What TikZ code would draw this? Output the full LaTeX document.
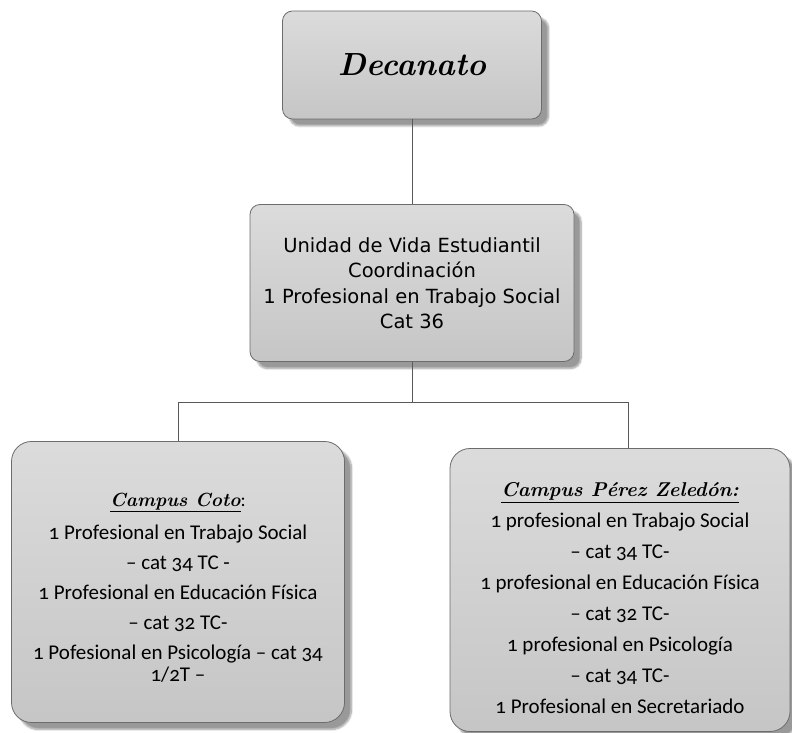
\documentclass[tikz,border=0pt]{standalone}
\usepackage{fontspec}
\usepackage{tikz}
\usetikzlibrary{positioning, shadows.blur}
\newfontfamily\unidadfont{DejaVu Sans}
\newfontfamily\campusfont[Numbers=OldStyle]{Carlito}
\newcommand{\scriptttl}[1]{{\rmfamily\bfseries\itshape #1}}

\begin{document}
\begin{tikzpicture}[x=1pt, y=1pt,
    orgbox/.style={draw=gray!85!black, line width=0.8pt, top color=gray!28, bottom color=gray!45,
        rounded corners=10pt, align=center, inner sep=4pt,
        blur shadow={shadow xshift=7pt, shadow yshift=-7pt, shadow blur steps=10, shadow opacity=40}},
    campusbox/.style={orgbox, rounded corners=20pt, font=\campusfont\fontsize{21}{30}\selectfont},
    link/.style={draw=gray!70!black, line width=0.8pt}]
    \useasboundingbox (0,0) rectangle (792,733);

    % Boxes
    \node[orgbox, minimum width=259pt, minimum height=108pt,
        font=\fontsize{32}{38}\selectfont] (decanato) at (412,668) {\scriptttl{Decanato}};
    \node[orgbox, minimum width=324pt, minimum height=157pt,
        font=\unidadfont\fontsize{19.5}{25.5}\selectfont] (unidad) at (412,450)
        {Unidad de Vida Estudiantil\\ Coordinación\\ 1 Profesional en Trabajo Social\\ Cat 36};
    \node[campusbox, minimum width=333pt, minimum height=281pt] (coto) at (178,151)
        {\rule{0pt}{24pt}{\fontsize{19}{30}\selectfont\underline{\scriptttl{Campus Coto}}:}\\[3pt]
         1 Profesional en Trabajo Social\\
         – cat 34 TC -\\
         1 Profesional en Educación Física\\
         – cat 32 TC-\\
         1 Pofesional en Psicología – cat 34\\[-8pt]
         1/2T –};
    \node[campusbox, minimum width=340pt, minimum height=283pt, font=\campusfont\fontsize{21}{31}\selectfont] (perez) at (620,143)
        {\rule{0pt}{30pt}{\fontsize{20}{31}\selectfont\underline{\scriptttl{Campus Pérez Zeledón:}}}\\
         1 profesional en Trabajo Social\\
         – cat 34 TC-\\
         1 profesional en Educación Física\\
         – cat 32 TC-\\
         1 profesional en Psicología\\
         – cat 34 TC-\\
         1 Profesional en Secretariado};

    % Connectors
    \coordinate (split) at (412,331);
    \draw[link] (decanato) -- (unidad);
    \draw[link] (unidad) -- (split);
    \draw[link] (split) -| (coto);
    \draw[link] (split) -| ([xshift=8pt]perez.north);
\end{tikzpicture}
\end{document}
